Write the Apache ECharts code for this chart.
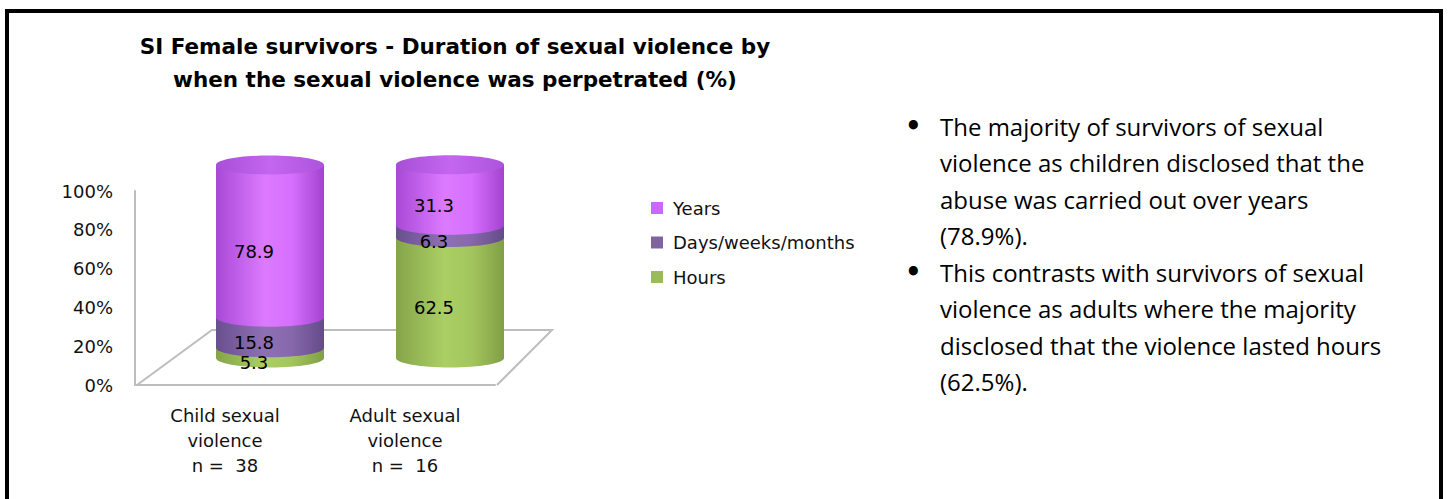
<!DOCTYPE html>
<html>
<head>
<meta charset="utf-8">
<script src="https://cdn.jsdelivr.net/npm/echarts@6/dist/echarts.min.js"></script>
<style>
html,body{margin:0;padding:0;background:#fff;}
#chart{width:1449px;height:499px;}
</style>
</head>
<body>
<div id="chart"></div>
<script>
// ---- data ----
const categories = ['Child sexual\nviolence\nn =  38', 'Adult sexual\nviolence\nn =  16'];
const seriesNames = ['Years', 'Days/weeks/months', 'Hours'];
const hours = [5.3, 62.5];
const days = [15.8, 6.3];
const years = [78.9, 31.3];
const yTickMin = 0, yTickMax = 100, yTickStep = 20;
const titleText = 'SI Female survivors - Duration of sexual violence by\nwhen the sexual violence was perpetrated (%)';
const bulletLines = [
  ['The majority of survivors of sexual', 'violence as children disclosed that the', 'abuse was carried out over years', '(78.9%).'],
  ['This contrasts with survivors of sexual', 'violence as adults where the majority', 'disclosed that the violence lasted hours', '(62.5%).']
];

// ---- styling ----
const legendColors = { 'Years': '#cc66ff', 'Days/weeks/months': '#8064a2', 'Hours': '#9bbb59' };
function hGrad(stops) {
  return new echarts.graphic.LinearGradient(0, 0, 1, 0, stops.map((c) => ({ offset: c[0], color: c[1] })));
}
const bodyGrad = {
  'Years': [[0, '#a849d6'], [0.45, '#dc7aff'], [0.7, '#d66ffd'], [1, '#a443d0']],
  'Days/weeks/months': [[0, '#6a4f8f'], [0.45, '#8e71b4'], [0.7, '#8668ab'], [1, '#654b89']],
  'Hours': [[0, '#85a449'], [0.45, '#abcf64'], [0.7, '#a3c55d'], [1, '#819f46']]
};
const topGrad = [[0, '#a74fd6'], [0.5, '#c466f0'], [1, '#ad54dc']];
const FONT = 'DejaVu Sans';
const CYL_W = 108, CYL_RY = 9.5;

// stacking order bottom -> top
const stackOrder = [['Hours', hours], ['Days/weeks/months', days], ['Years', years]];
const bases = stackOrder.map((s, k) => categories.map((c, i) => {
  let b = 0; for (let j = 0; j < k; j++) b += stackOrder[j][1][i]; return b;
}));

function makeSeries(k) {
  const name = stackOrder[k][0];
  const vals = stackOrder[k][1];
  const isTop = k === stackOrder.length - 1;
  return {
    type: 'custom',
    name: name,
    xAxisIndex: 0, yAxisIndex: 0,
    clip: false,
    itemStyle: { color: legendColors[name] },
    encode: { x: 0, y: [1, 2] },
    data: categories.map((c, i) => [i, bases[k][i], bases[k][i] + vals[i], vals[i]]),
    renderItem: function (params, api) {
      const i = api.value(0);
      const pB = api.coord([i, api.value(1)]);
      const pT = api.coord([i, api.value(2)]);
      const cx = pB[0];
      const children = [
        { type: 'rect', z2: k * 3 + 1,
          shape: { x: cx - CYL_W / 2, y: pT[1], width: CYL_W, height: pB[1] - pT[1] },
          style: { fill: hGrad(bodyGrad[name]) } },
        { type: 'ellipse', z2: k * 3 + 2,
          shape: { cx: cx, cy: pB[1], rx: CYL_W / 2, ry: CYL_RY },
          style: { fill: hGrad(bodyGrad[name]) } }
      ];
      if (isTop) {
        children.push({ type: 'ellipse', z2: k * 3 + 3,
          shape: { cx: cx, cy: pT[1], rx: CYL_W / 2, ry: CYL_RY },
          style: { fill: hGrad(topGrad) } });
      }
      children.push({ type: 'text', z2: 50,
        style: { text: api.value(3).toFixed(1), x: cx - 16, y: (pB[1] + pT[1]) / 2 + 10,
          align: 'center', verticalAlign: 'middle', font: '18px "' + FONT + '"', fill: '#000' } });
      return { type: 'group', children: children };
    }
  };
}

const chart = echarts.init(document.getElementById('chart'), null, { renderer: 'svg' });
const bulletText = bulletLines.map(p => p.join('\n')).join('\n');
const LINE_H = 36.5, TEXT_TOP = 108;

chart.setOption({
  animation: false,
  backgroundColor: '#ffffff',
  grid: [
    { left: 180, top: 165, width: 360, height: 193 },
    { left: 135, top: 191, width: 360, height: 194 }
  ],
  xAxis: [
    { gridIndex: 0, type: 'category', data: categories, show: false },
    { gridIndex: 1, type: 'category', data: categories,
      axisLine: { show: true, lineStyle: { color: '#bdbdbd', width: 2 } },
      axisTick: { show: false },
      axisLabel: { margin: 18, fontFamily: FONT, fontSize: 18, lineHeight: 25, color: '#111' } }
  ],
  yAxis: [
    { gridIndex: 0, type: 'value', min: yTickMin, max: yTickMax, show: false },
    { gridIndex: 1, type: 'value', min: yTickMin, max: yTickMax, interval: yTickStep,
      axisLine: { show: true, lineStyle: { color: '#bdbdbd', width: 2 } },
      axisTick: { show: false },
      splitLine: { show: false },
      axisLabel: { margin: 22, formatter: '{value}%', fontFamily: FONT, fontSize: 18, color: '#111' } }
  ],
  legend: {
    data: seriesNames, orient: 'vertical', left: 646, top: 194,
    itemWidth: 12, itemHeight: 12, itemGap: 16.5, icon: 'rect',
    textStyle: { fontFamily: FONT, fontSize: 18, color: '#111', padding: [0, 0, 0, 5] }
  },
  graphic: [
    { type: 'rect', z: -1, shape: { x: 7, y: 11, width: 1434, height: 520 },
      style: { fill: 'none', stroke: '#000', lineWidth: 4 } },
    { type: 'polyline', z: 0, shape: { points: [[137, 385], [212, 330], [552, 330], [497, 385]] },
      style: { stroke: '#bdbdbd', lineWidth: 2, fill: 'none' } },
    { type: 'text', x: 455, y: 30,
      style: { text: titleText, align: 'center', font: 'bold 21.5px "' + FONT + '"', lineHeight: 33, fill: '#000' } },
    { type: 'text', x: 940, y: TEXT_TOP,
      style: { text: bulletText, font: '24px "Open Sans"', lineHeight: LINE_H, fill: '#000' } },
    { type: 'text', x: 905, y: TEXT_TOP,
      style: { text: '•', font: 'bold 26px "' + FONT + '"', lineHeight: LINE_H, fill: '#000' } },
    { type: 'text', x: 905, y: TEXT_TOP + LINE_H * bulletLines[0].length,
      style: { text: '•', font: 'bold 26px "' + FONT + '"', lineHeight: LINE_H, fill: '#000' } }
  ],
  series: [0, 1, 2].map(makeSeries)
});
</script>
</body>
</html>
